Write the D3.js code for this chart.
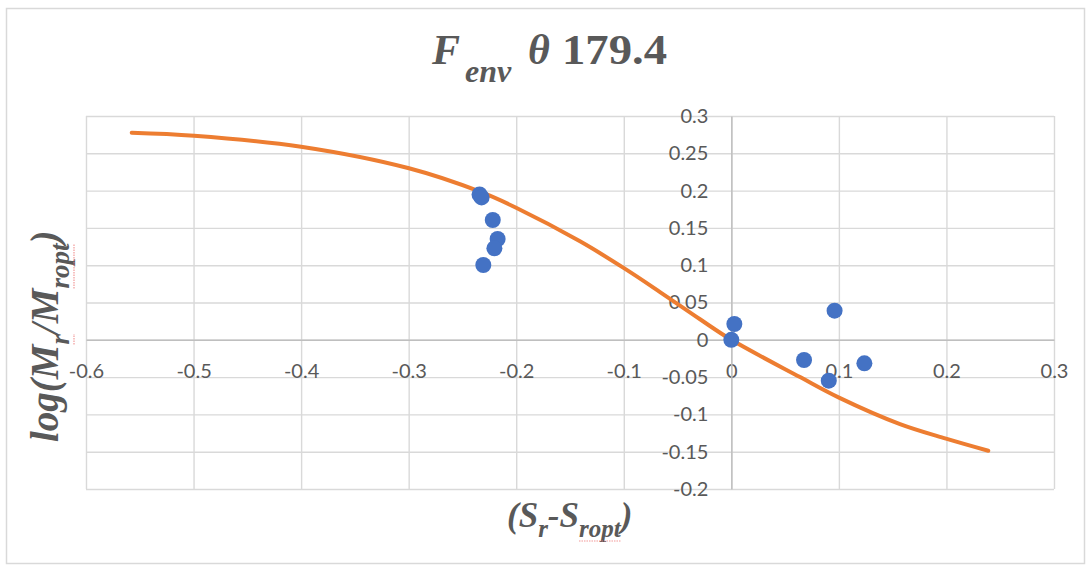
<!DOCTYPE html>
<html>
<head>
<meta charset="utf-8">
<script src="https://cdn.jsdelivr.net/npm/d3@7"></script>
<style>
  html, body { margin: 0; padding: 0; background: #fff; }
  svg { display: block; }
  .tick text { font-family: Lato, "Open Sans", sans-serif; font-size: 20px; fill: #595959; }
  .ttl { font-family: "Liberation Serif", "Times New Roman", serif; font-weight: bold; fill: #595959; }
</style>
</head>
<body>
<svg id="chart" width="1091" height="568"></svg>
<script>
// Observed points
const pointX = [-0.2341, -0.2322, -0.2218, -0.2173, -0.2203, -0.2306, 0.0028, 0.0, 0.0676, 0.0960, 0.1237, 0.0906];
const pointY = [0.1948, 0.1908, 0.1606, 0.1351, 0.1226, 0.1003, 0.0212, 0.0, -0.0271, 0.0390, -0.0315, -0.0548];

// Fitted envelope curve
const curveX = [-0.5575, -0.4995, -0.4001, -0.2997, -0.2336, -0.2001, -0.1407, -0.0998, -0.0663, -0.0291, 0.0, 0.0639, 0.1001, 0.1568, 0.1996, 0.2389];
const curveY = [0.2776, 0.2736, 0.2588, 0.2299, 0.1985, 0.1770, 0.1320, 0.0960, 0.0640, 0.0275, 0.0, -0.0500, -0.0775, -0.1130, -0.1325, -0.1487];

// Axis ticks
const xTicks = [-0.6, -0.5, -0.4, -0.3, -0.2, -0.1, 0, 0.1, 0.2, 0.3];
const yTicks = [-0.2, -0.15, -0.1, -0.05, 0, 0.05, 0.1, 0.15, 0.2, 0.25, 0.3];
const fmt = d => String(+d.toFixed(2));

const svg = d3.select("#chart");

// chart frame
svg.append("rect")
  .attr("x", 6.5).attr("y", 8.5).attr("width", 1078).attr("height", 555)
  .attr("fill", "#fff").attr("stroke", "#d9d9d9").attr("stroke-width", 1.5);

const plot = { left: 86, right: 1054, top: 116, bottom: 489 };
const x = d3.scaleLinear().domain([-0.6, 0.3]).range([plot.left, plot.right]);
const y = d3.scaleLinear().domain([-0.2, 0.3]).range([plot.bottom, plot.top]);

// gridlines
const gridX = svg.append("g")
  .attr("transform", `translate(0,${plot.bottom})`)
  .call(d3.axisBottom(x).tickValues(xTicks).tickSize(-(plot.bottom - plot.top)).tickFormat(""));
const gridY = svg.append("g")
  .attr("transform", `translate(${plot.left},0)`)
  .call(d3.axisLeft(y).tickValues(yTicks).tickSize(-(plot.right - plot.left)).tickFormat(""));
[gridX, gridY].forEach(g => {
  g.select(".domain").remove();
  g.selectAll(".tick line").attr("stroke", "#d9d9d9").attr("stroke-width", 1.4);
});

// axes crossing at zero
const xAxis = svg.append("g")
  .attr("transform", `translate(0,${y(0)})`)
  .call(d3.axisBottom(x).tickValues(xTicks).tickSize(0).tickPadding(24).tickFormat(fmt));
const yAxis = svg.append("g")
  .attr("transform", `translate(${x(0)},0)`)
  .call(d3.axisLeft(y).tickValues(yTicks).tickSize(0).tickPadding(23).tickFormat(fmt));
[xAxis, yAxis].forEach(g => {
  g.select(".domain").attr("stroke", "#bfbfbf").attr("stroke-width", 1.5);
});

// envelope curve
const line = d3.line()
  .x((d, i) => x(curveX[i]))
  .y((d, i) => y(curveY[i]))
  .curve(d3.curveCatmullRom.alpha(0.5));
svg.append("path")
  .datum(curveX)
  .attr("d", line)
  .attr("fill", "none")
  .attr("stroke", "#ed7d31")
  .attr("stroke-width", 4)
  .attr("stroke-linecap", "round");

// data points
svg.append("g").selectAll("circle")
  .data(pointX)
  .join("circle")
  .attr("cx", (d, i) => x(pointX[i]))
  .attr("cy", (d, i) => y(pointY[i]))
  .attr("r", 8)
  .attr("fill", "#4472c4");

// rich text helper: parts = [text, italic, sub]
function richText(sel, parts, size, subSize, subShift) {
  let shifted = false;
  parts.forEach(([t, it, sub]) => {
    const ts = sel.append("tspan").text(t)
      .attr("font-style", it ? "italic" : "normal")
      .attr("font-size", sub ? subSize : size);
    if (sub && !shifted) { ts.attr("dy", subShift); shifted = true; }
    else if (!sub && shifted) { ts.attr("dy", -subShift); shifted = false; }
  });
}

// spellcheck-style underline below characters [a, b) of a text element
function squiggle(textEl, parentG, a, b, offset) {
  const node = textEl.node();
  const s = node.getStartPositionOfChar(a);
  const e = node.getEndPositionOfChar(b - 1);
  const ext = node.getExtentOfChar(a);
  const yy = ext.y + ext.height + offset;
  parentG.append("line")
    .attr("x1", s.x).attr("x2", e.x).attr("y1", yy).attr("y2", yy)
    .attr("stroke", "#f08080").attr("stroke-width", 1.2)
    .attr("stroke-dasharray", "1.5,1").attr("opacity", 0.8);
}

// title: F_env θ 179.4
const title = svg.append("text").attr("class", "ttl").attr("y", 64);
title.append("tspan").attr("x", 432).attr("font-size", 42).attr("font-style", "italic").text("F");
title.append("tspan").attr("x", 465).attr("dy", 18).attr("font-size", 32).attr("font-style", "italic")
  .text("env");
title.append("tspan").attr("x", 528).attr("dy", -18).attr("font-size", 42).attr("font-style", "italic").text("θ");
title.append("tspan").attr("x", 562).attr("font-size", 42)
  .attr("textLength", 105).attr("lengthAdjust", "spacingAndGlyphs").text("179.4");

// x-axis title
const xtG = svg.append("g");
const xt = xtG.append("text").attr("class", "ttl")
  .attr("x", 507).attr("y", 527);
richText(xt, [["(S", true, false], ["r", true, true], ["-S", true, false], ["ropt", true, true], [")", true, false]], 35, 25, 10);
squiggle(xt, xtG, 5, 9, -1);

// y-axis title (rotated)
const ytG = svg.append("g").attr("transform", "translate(58,442) rotate(-90)");
const yt = ytG.append("text").attr("class", "ttl").attr("x", 0).attr("y", 0);
richText(yt, [["log(M", true, false], ["r", true, true], ["/M", true, false], ["ropt", true, true], [")", true, false]], 39, 27, 11);
squiggle(yt, ytG, 5, 6, -1);
squiggle(yt, ytG, 8, 12, -1);
</script>
</body>
</html>
